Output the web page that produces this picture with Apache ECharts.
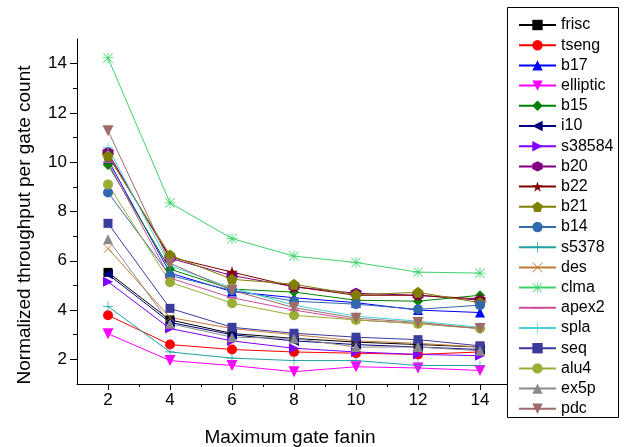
<!DOCTYPE html>
<html>
<head>
<meta charset="utf-8">
<script src="https://cdn.jsdelivr.net/npm/echarts@6/dist/echarts.min.js"></script>
<style>
  html, body { margin: 0; padding: 0; background: #fff; }
  #chart { width: 624px; height: 447px; }
</style>
</head>
<body>
<div id="chart"></div>
<script>
// x values (maximum gate fanin)
var fanin = [2, 4, 6, 8, 10, 12, 14];
var xTicks = [2, 4, 6, 8, 10, 12, 14];
var yTicks = [2, 4, 6, 8, 10, 12, 14];
var minorTicks = [3, 5, 7, 9, 11, 13];

var names = ['frisc', 'tseng', 'b17', 'elliptic', 'b15', 'i10', 's38584', 'b20', 'b22', 'b21',
  'b14', 's5378', 'des', 'clma', 'apex2', 'spla', 'seq', 'alu4', 'ex5p', 'pdc'];

var frisc    = [5.53, 3.60, 3.05, 2.85, 2.70, 2.60, 2.50];
var tseng    = [3.79, 2.60, 2.40, 2.30, 2.25, 2.20, 2.30];
var b17      = [10.10, 5.50, 4.75, 4.50, 4.30, 4.00, 3.90];
var elliptic = [3.04, 1.95, 1.75, 1.50, 1.70, 1.65, 1.55];
var b15      = [9.89, 5.66, 4.85, 4.73, 4.40, 4.36, 4.60];
var i10      = [5.45, 3.50, 3.00, 2.75, 2.60, 2.50, 2.40];
var s38584   = [5.15, 3.25, 2.75, 2.45, 2.30, 2.20, 2.15];
var b20      = [10.39, 6.10, 5.40, 4.95, 4.68, 4.60, 4.40];
var b22      = [10.30, 6.15, 5.54, 4.95, 4.60, 4.60, 4.45];
var b21      = [10.26, 6.23, 5.25, 5.05, 4.62, 4.72, 4.30];
var b14      = [8.77, 5.40, 4.80, 4.36, 4.24, 4.03, 4.20];
var s5378    = [4.15, 2.30, 2.05, 1.95, 1.95, 1.75, 1.75];
var des      = [6.50, 3.70, 3.25, 3.00, 2.75, 2.65, 2.50];
var clma     = [14.23, 8.35, 6.90, 6.19, 5.93, 5.54, 5.50];
var apex2    = [10.00, 5.30, 4.50, 4.00, 3.60, 3.45, 3.25];
var spla     = [10.60, 5.80, 4.90, 4.20, 3.75, 3.55, 3.30];
var seq      = [7.52, 4.07, 3.30, 3.06, 2.90, 2.80, 2.55];
var alu4     = [9.10, 5.13, 4.28, 3.79, 3.60, 3.45, 3.25];
var ex5p     = [6.87, 3.45, 2.90, 2.85, 2.50, 2.50, 2.35];
var pdc      = [11.28, 5.90, 4.80, 4.10, 3.67, 3.50, 3.25];

var values = [frisc, tseng, b17, elliptic, b15, i10, s38584, b20, b22, b21,
  b14, s5378, des, clma, apex2, spla, seq, alu4, ex5p, pdc];

var colors = ['#000000', '#ff0000', '#0000ff', '#ff00ff', '#008000', '#000080', '#8000ff', '#800080', '#800000', '#808000',
  '#3168ae', '#20a0a0', '#c27a38', '#3dd36b', '#cc4c99', '#47cfd8', '#3c3c9c', '#9aae35', '#8a8a8a', '#9e6a6a'];

// marker shapes
var STAR = 'path://M10,0 L12.35,7.6 L20,7.6 L13.8,12.3 L16.2,20 L10,15.3 L3.8,20 L6.2,12.3 L0,7.6 L7.65,7.6 Z';
var PENT = 'path://M10,0 L20,7.3 L16.2,19 L3.8,19 L0,7.3 Z';
var HEX = 'path://M10,0 L18.66,5 L18.66,15 L10,20 L1.34,15 L1.34,5 Z';
var PLUS = 'path://M9.3,0 H10.7 V9.3 H20 V10.7 H10.7 V20 H9.3 V10.7 H0 V9.3 H9.3 Z';
var CROSS = 'path://M0,1 L1,0 L20,19 L19,20 Z M19,0 L20,1 L1,20 L0,19 Z';
var ASTER = 'path://M9.3,0 H10.7 V9.3 H20 V10.7 H10.7 V20 H9.3 V10.7 H0 V9.3 H9.3 Z M1,2 L2,1 L19,18 L18,19 Z M18,1 L19,2 L2,19 L1,18 Z';
// short bar; tiny corner specks keep the bounding box square
var DASH = 'path://M0,8.5 H20 V11.5 H0 Z M10,0 L10.01,0 L10,0.01 Z M10,20 L10.01,20 L10,19.99 Z';

var symbols = ['rect', 'circle', 'triangle', 'triangle', 'diamond', 'triangle', 'triangle', HEX, STAR, PENT,
  'circle', PLUS, CROSS, ASTER, DASH, PLUS, 'rect', 'circle', 'triangle', 'triangle'];
var rotates = [0, 0, 0, 180, 0, 90, -90, 0, 0, 0, 0, 0, 0, 0, 0, 0, 0, 0, 0, 180];
var sizes = [9, 10, 10, 11, 10, 10, 10, 11, 12, 11, 10, 10, 9, 11, 10, 10, 9, 10, 10, 11];

var chart = echarts.init(document.getElementById('chart'));

var series = names.map(function (n, i) {
  return {
    name: n,
    type: 'line',
    xAxisIndex: 0,
    yAxisIndex: 0,
    data: fanin.map(function (x, j) { return [x, values[i][j]]; }),
    symbol: symbols[i],
    symbolRotate: rotates[i],
    symbolSize: sizes[i],
    lineStyle: { color: colors[i], width: 1 },
    itemStyle: { color: colors[i], borderColor: colors[i], borderWidth: 0 },
    emphasis: { disabled: true },
    animation: false
  };
});

var font = 'Arial, "Liberation Sans", sans-serif';

var option = {
  backgroundColor: '#ffffff',
  animation: false,
  textStyle: { fontFamily: font, color: '#000' },
  grid: { left: 77, right: 113, top: 39, bottom: 63 },
  xAxis: [
    {
      type: 'value', min: 1, max: 15,
      axisLine: { lineStyle: { color: '#000', width: 1 } },
      axisTick: { inside: false, length: 6, customValues: xTicks, lineStyle: { color: '#000' } },
      axisLabel: { customValues: xTicks, fontSize: 17, color: '#000', margin: 8, fontFamily: font },
      splitLine: { show: false }
    },
    {
      type: 'value', min: 1, max: 15, position: 'bottom',
      axisLine: { show: false },
      axisTick: { length: 3, customValues: minorTicks, lineStyle: { color: '#000' } },
      axisLabel: { show: false },
      splitLine: { show: false }
    }
  ],
  yAxis: [
    {
      type: 'value', min: 1, max: 15,
      axisLine: { show: true, lineStyle: { color: '#000', width: 1 } },
      axisTick: { show: true, length: 7, customValues: yTicks, lineStyle: { color: '#000' } },
      axisLabel: { customValues: yTicks, fontSize: 17, color: '#000', margin: 10, fontFamily: font },
      splitLine: { show: false }
    },
    {
      type: 'value', min: 1, max: 15, position: 'left',
      axisLine: { show: false },
      axisTick: { show: true, length: 4, customValues: minorTicks, lineStyle: { color: '#000' } },
      axisLabel: { show: false },
      splitLine: { show: false }
    }
  ],
  legend: {
    orient: 'vertical',
    left: 518,
    top: 17,
    padding: 0,
    itemWidth: 37,
    itemHeight: 13,
    itemGap: 4.2,
    z: 10,
    textStyle: { fontSize: 16, color: '#000', fontFamily: font, lineHeight: 16 },
    data: names
  },
  graphic: [
    {
      type: 'rect', z: 5,
      shape: { x: 507.5, y: 7.5, width: 111, height: 410 },
      style: { fill: '#fff', stroke: '#000', lineWidth: 1 }
    },
    {
      type: 'text', x: 25, y: 225, rotation: Math.PI / 2,
      style: { text: 'Normalized throughput per gate count', font: '19px ' + font, fill: '#000',
        align: 'center', verticalAlign: 'middle' }
    },
    {
      type: 'text', x: 290, y: 438,
      style: { text: 'Maximum gate fanin', font: '19px ' + font, fill: '#000',
        align: 'center', verticalAlign: 'middle' }
    }
  ],
  series: series
};

chart.setOption(option);
</script>
</body>
</html>
